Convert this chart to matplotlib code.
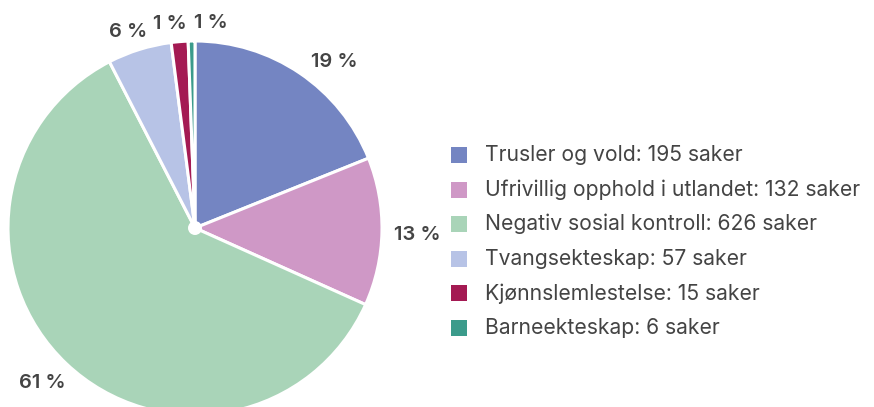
import matplotlib
matplotlib.use("Agg")
import matplotlib.pyplot as plt
from matplotlib.patches import Rectangle, Circle
import numpy as np

categories = ["Trusler og vold", "Ufrivillig opphold i utlandet", "Negativ sosial kontroll",
              "Tvangsekteskap", "Kjønnslemlestelse", "Barneekteskap"]
values = [195, 132, 626, 57, 15, 6]
colors = ["#7485c2", "#cf98c6", "#a9d4b8", "#b7c3e6", "#a41a53", "#3b9b8b"]

plt.rcParams['font.family'] = ['Inter', 'DejaVu Sans']
W, H = 874, 407
fig = plt.figure(figsize=(W / 100, H / 100), dpi=100)

cx, cy, r = 195, 228, 187
ax = fig.add_axes([(cx - r) / W, (H - cy - r) / H, 2 * r / W, 2 * r / H])

wedges, _ = ax.pie(values, colors=colors, startangle=90, counterclock=False, radius=1,
                   wedgeprops=dict(edgecolor='white', linewidth=2.2))
ax.set_xlim(-1, 1)
ax.set_ylim(-1, 1)
ax.set_aspect('equal')
ax.axis('off')
for w in wedges:
    w.set_clip_on(False)
ax.add_patch(Circle((0, 0), 7 / r, facecolor='white', edgecolor='none', zorder=5))

total = sum(values)
pct = [round(v / total * 100) for v in values]
# label placement: distance factor and angle adjustment (degrees) for crowded small slices
label_dist = [1.16, 1.19, 1.165, 1.107, 1.10, 1.10]
angle_shift = [-6, -0.7, -1.1, 1.7, 2.3, -5.5]
cum = 0
for v, p, d, s in zip(values, pct, label_dist, angle_shift):
    mid = 90 - 360 * (cum + v / 2) / total
    cum += v
    th = np.deg2rad(mid + s)
    ax.text(d * np.cos(th), d * np.sin(th), f"{p} %", ha='center', va='center',
            fontsize=14.5, fontweight='semibold', color='#444444', clip_on=False)

# legend
y0, dy = 155, 34.6
for i, (c, lab, v) in enumerate(zip(colors, categories, values)):
    y = y0 + i * dy
    fig.patches.append(Rectangle((451 / W, (H - y - 8) / H), 16 / W, 16 / H,
                                 transform=fig.transFigure, facecolor=c, edgecolor='none'))
    fig.text(485 / W, (H - y) / H, f"{lab}: {v} saker", ha='left', va='center',
             fontsize=15.2, color='#444444')

fig.savefig("out.png", dpi=100, facecolor='white')
